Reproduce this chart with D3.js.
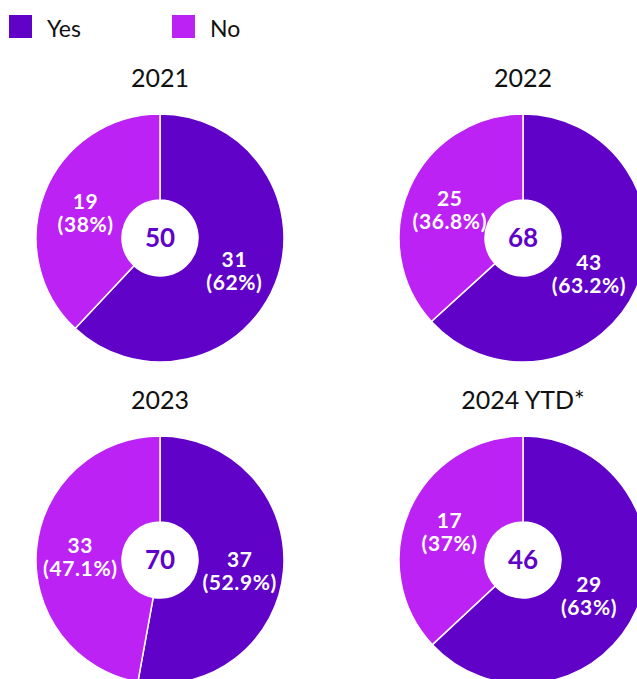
<!DOCTYPE html>
<html>

<head>
    <style>
        body {
            margin: 0;
            background: #fff;
            font-family: Lato, "Noto Sans", sans-serif;
        }
    </style>
    <script src="https://d3js.org/d3.v7.min.js"></script>
</head>

<body>
    <svg width="637" height="679"></svg>

    <script>
        // data
        var years = ["2021", "2022", "2023", "2024 YTD*"];
        var yesValues = [31, 43, 37, 29];
        var noValues = [19, 25, 33, 17];
        var categories = ["Yes", "No"];

        var colors = d3.scaleOrdinal().domain(categories).range(["#6002c8", "#bc22f3"]);

        var svg = d3.select("svg");
        var W = 637;

        // legend
        var legend = svg.append("g");
        var legendX = d3.scalePoint().domain(categories).range([9, 172]);
        legend.selectAll("rect")
            .data(categories)
            .enter().append("rect")
            .attr("x", function (d) { return legendX(d); })
            .attr("y", 15)
            .attr("width", 23)
            .attr("height", 23)
            .attr("fill", function (d) { return colors(d); });
        legend.selectAll("text")
            .data(categories)
            .enter().append("text")
            .attr("x", function (d) { return legendX(d) + 38; })
            .attr("y", 37)
            .attr("font-size", 23)
            .attr("fill", "#111")
            .text(function (d) { return d; });

        // grid of donuts
        var colX = d3.scalePoint().domain([0, 1]).range([160, 523]);
        var rowY = d3.scalePoint().domain([0, 1]).range([238, 560]);

        var outerR = 124, innerR = 38;
        var pie = d3.pie().sort(null).value(function (d) { return d.value; });
        var arc = d3.arc().innerRadius(innerR).outerRadius(outerR);
        var labelArc = d3.arc().innerRadius(80).outerRadius(80);

        years.forEach(function (year, i) {
            var rows = [
                { key: "Yes", value: yesValues[i] },
                { key: "No", value: noValues[i] }
            ];
            var total = yesValues[i] + noValues[i];
            var cx = colX(i % 2), cy = rowY(Math.floor(i / 2));
            var g = svg.append("g")
                .attr("transform", "translate(" + cx + "," + cy + ")");

            g.append("text")
                .attr("y", -151)
                .attr("text-anchor", "middle")
                .attr("font-size", 25)
                .attr("fill", "#111")
                .text(year);

            var arcs = pie(rows);

            g.selectAll("path")
                .data(arcs)
                .enter().append("path")
                .attr("d", arc)
                .attr("fill", function (d) { return colors(d.data.key); })
                .attr("stroke", "#fff")
                .attr("stroke-width", 1.5);

            var labels = g.selectAll(".lbl")
                .data(arcs)
                .enter().append("text")
                .attr("class", "lbl")
                .attr("transform", function (d) {
                    var c = labelArc.centroid(d);
                    // keep labels inside the page
                    var x = Math.min(c[0], W - 48 - cx);
                    return "translate(" + x + "," + (c[1] + 4) + ")";
                })
                .attr("text-anchor", "middle")
                .attr("font-size", 21)
                .attr("font-weight", "bold")
                .attr("letter-spacing", 0.6)
                .attr("fill", "#fff");
            labels.append("tspan")
                .attr("x", 0)
                .attr("y", -4)
                .text(function (d) { return d.data.value; });
            labels.append("tspan")
                .attr("x", 0)
                .attr("y", 19)
                .text(function (d) {
                    var p = d.data.value / total * 100;
                    return "(" + (Math.round(p * 10) / 10) + "%)";
                });

            g.append("text")
                .attr("y", 9)
                .attr("text-anchor", "middle")
                .attr("font-size", 26)
                .attr("font-weight", "bold")
                .attr("fill", "#6002c8")
                .text(total);
        });
    </script>

</body>

</html>
